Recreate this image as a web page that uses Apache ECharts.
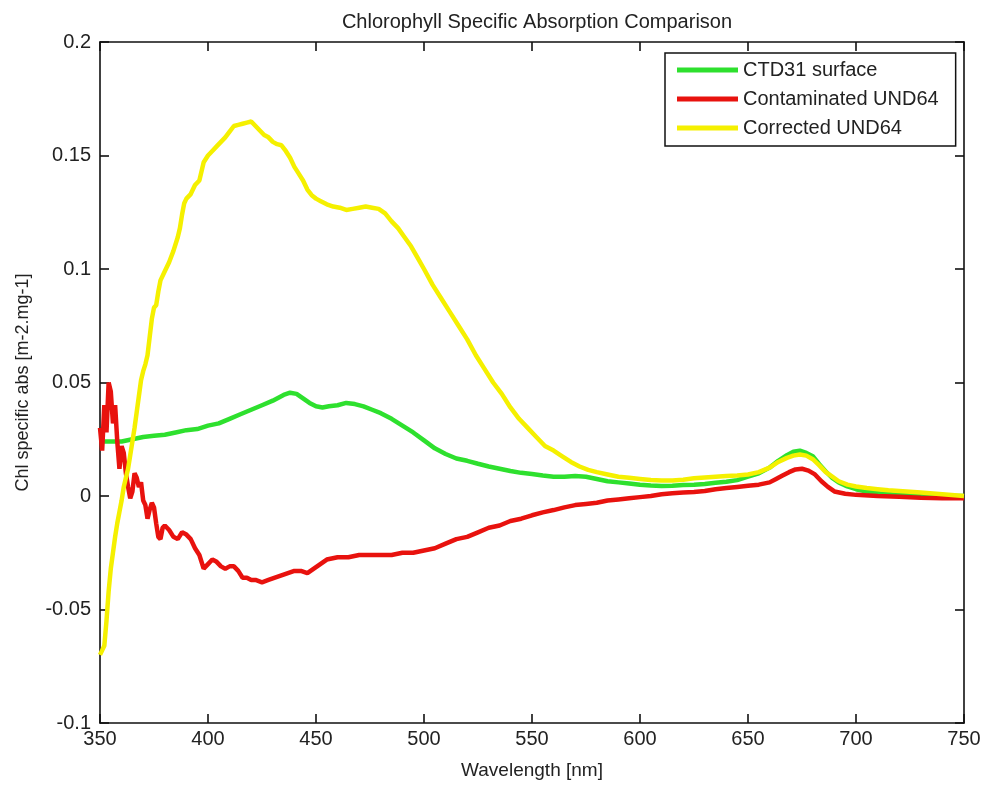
<!DOCTYPE html>
<html>
<head>
<meta charset="utf-8">
<script src="https://cdn.jsdelivr.net/npm/echarts@6/dist/echarts.min.js"></script>
<style>html,body{margin:0;padding:0;background:#fff}#c{width:984px;height:785px}</style>
</head>
<body>
<div id="c"></div>
<script>
// ---- data ----
const xTicks = [350, 400, 450, 500, 550, 600, 650, 700, 750];
const yTicks = [-0.1, -0.05, 0, 0.05, 0.1, 0.15, 0.2];

const greenWl = [350,355,360,365,370,375,380,385,390,395,400,405,410,415,420,425,430,435,438,441,444,447,450,453,456,460,464,468,472,476,480,485,490,495,500,505,510,515,520,525,530,535,540,545,550,555,560,565,570,575,580,585,590,595,600,605,610,615,620,625,630,635,640,645,650,655,660,664,668,671,674,677,680,683,686,689,692,696,700,705,712,720,735,750];
const greenVal = [0.024,0.024,0.024,0.025,0.026,0.0265,0.027,0.028,0.029,0.0295,0.031,0.032,0.034,0.036,0.038,0.040,0.042,0.0445,0.0455,0.045,0.043,0.041,0.0395,0.039,0.0395,0.040,0.041,0.0405,0.0395,0.038,0.0365,0.034,0.031,0.028,0.0245,0.021,0.0185,0.0165,0.0155,0.0142,0.013,0.012,0.011,0.0102,0.0097,0.009,0.0085,0.0085,0.0088,0.0085,0.0075,0.0065,0.006,0.0055,0.005,0.0046,0.0044,0.0045,0.0048,0.005,0.0053,0.0058,0.0063,0.007,0.0085,0.010,0.0125,0.0155,0.018,0.0195,0.020,0.019,0.0175,0.014,0.0108,0.008,0.006,0.0042,0.003,0.002,0.001,0.0006,0.0,0.0];

const redWl = [350,351,352,353,354,355,356,357,358,359,360,361,362,363,364,365,366,367,368,369,370,371,372,373,374,375,376,377,378,379,380,382,384,386,388,390,392,394,396,398,400,402,404,406,408,410,412,414,416,418,420,422,425,428,431,434,437,440,443,446,449,452,455,460,465,470,475,480,485,490,495,500,505,510,515,520,525,530,535,540,545,550,555,560,565,570,575,580,585,590,595,600,605,610,615,620,625,630,635,640,645,650,655,660,663,666,669,672,675,678,681,684,687,690,695,700,710,720,730,740,750];
const redVal = [0.030,0.020,0.040,0.028,0.050,0.046,0.032,0.040,0.024,0.012,0.022,0.019,0.010,0.004,-0.001,0.002,0.010,0.008,0.004,0.006,-0.002,-0.004,-0.010,-0.006,-0.003,-0.005,-0.012,-0.018,-0.019,-0.014,-0.013,-0.015,-0.018,-0.019,-0.016,-0.017,-0.019,-0.023,-0.026,-0.032,-0.030,-0.028,-0.029,-0.031,-0.032,-0.031,-0.031,-0.033,-0.036,-0.036,-0.037,-0.037,-0.038,-0.037,-0.036,-0.035,-0.034,-0.033,-0.033,-0.034,-0.032,-0.030,-0.028,-0.027,-0.027,-0.026,-0.026,-0.026,-0.026,-0.025,-0.025,-0.024,-0.023,-0.021,-0.019,-0.018,-0.016,-0.014,-0.013,-0.011,-0.010,-0.0085,-0.0072,-0.0062,-0.005,-0.004,-0.0035,-0.003,-0.002,-0.0015,-0.001,-0.0005,0.0,0.0008,0.0012,0.0015,0.0018,0.0022,0.003,0.0035,0.004,0.0045,0.005,0.006,0.0075,0.009,0.0105,0.0117,0.012,0.0112,0.0095,0.0065,0.004,0.002,0.001,0.0005,0.0,-0.0003,-0.0008,-0.001,-0.001];

const yellowWl = [350,351,352,353,354,355,356,357,358,359,360,361,362,363,364,365,366,367,368,369,370,371,372,373,374,375,376,377,378,380,382,384,386,387,388,389,390,392,394,396,398,400,402,404,406,408,410,412,414,416,418,420,422,424,426,428,430,432,434,436,438,440,442,444,446,448,450,452,455,458,461,464,467,470,473,476,479,482,485,488,491,494,497,500,504,508,512,516,520,524,528,532,536,540,544,548,552,556,560,564,568,572,576,580,585,590,595,600,605,610,615,620,625,630,635,640,645,650,655,660,664,668,671,674,677,680,683,686,689,692,696,700,705,710,715,720,730,740,750];
const yellowVal = [-0.070,-0.068,-0.066,-0.055,-0.042,-0.032,-0.025,-0.018,-0.012,-0.007,-0.002,0.004,0.008,0.012,0.018,0.024,0.030,0.037,0.044,0.051,0.055,0.058,0.062,0.070,0.078,0.083,0.084,0.090,0.095,0.099,0.103,0.108,0.114,0.118,0.124,0.129,0.131,0.133,0.137,0.139,0.147,0.150,0.152,0.154,0.156,0.158,0.1605,0.163,0.1635,0.164,0.1645,0.165,0.163,0.161,0.159,0.158,0.156,0.155,0.1545,0.152,0.149,0.145,0.142,0.139,0.135,0.1325,0.131,0.130,0.1285,0.1275,0.127,0.126,0.1265,0.127,0.1275,0.127,0.1265,0.1245,0.121,0.118,0.114,0.110,0.105,0.100,0.093,0.087,0.081,0.075,0.069,0.062,0.056,0.050,0.045,0.039,0.034,0.030,0.026,0.022,0.020,0.0175,0.015,0.013,0.0115,0.0105,0.0095,0.0085,0.008,0.0075,0.007,0.0068,0.0068,0.0072,0.0078,0.0082,0.0085,0.0088,0.009,0.0095,0.0105,0.0125,0.015,0.0168,0.0178,0.0183,0.0178,0.0162,0.0135,0.0105,0.0085,0.0065,0.005,0.0042,0.0035,0.003,0.0025,0.0022,0.0015,0.0008,0.0];

const names = ['CTD31 surface', 'Contaminated UND64', 'Corrected UND64'];
const colors = ['#2ee02e', '#e8120e', '#f5f000'];

function zip(a, b) { return a.map((v, i) => [v, b[i]]); }

const FONT = 'Liberation Sans, Arial, sans-serif';
const axisLine = { show: true, onZero: false, lineStyle: { color: '#111', width: 1.6 } };
const axisTick = { show: true, inside: true, length: 9, lineStyle: { color: '#111', width: 1.6 } };

const chart = echarts.init(document.getElementById('c'), null, { renderer: 'canvas' });
chart.setOption({
  backgroundColor: '#fff',
  animation: false,
  title: {
    text: 'Chlorophyll Specific Absorption Comparison',
    left: 532, top: 7, textAlign: 'center',
    textStyle: { fontFamily: FONT, fontSize: 20, fontWeight: 'normal', color: '#222' }
  },
  legend: {
    orient: 'vertical', left: 665, top: 53,
    data: names,
    icon: 'rect', itemWidth: 61, itemHeight: 5, itemGap: 9,
    padding: [7, 17, 8, 12],
    borderColor: '#111', borderWidth: 1.5, backgroundColor: '#fff',
    textStyle: { fontFamily: FONT, fontSize: 20, color: '#222' },
    selectedMode: false
  },
  grid: { left: 100, right: 20, top: 42, bottom: 60, containLabel: false },
  xAxis: [{
    type: 'value', min: 350, max: 750, interval: 50, position: 'bottom',
    name: 'Wavelength [nm]', nameLocation: 'middle', nameGap: 38,
    nameTextStyle: { fontFamily: FONT, fontSize: 19, color: '#222' },
    axisLine, axisTick, splitLine: { show: false },
    axisLabel: { fontFamily: FONT, fontSize: 20, color: '#222', margin: 6,
      formatter: v => xTicks.includes(v) ? String(v) : '' }
  }, {
    type: 'value', min: 350, max: 750, interval: 50, position: 'top',
    axisLine, axisTick, splitLine: { show: false }, axisLabel: { show: false }
  }],
  yAxis: [{
    type: 'value', min: -0.1, max: 0.2, interval: 0.05, position: 'left',
    name: 'Chl specific abs [m-2.mg-1]', nameLocation: 'middle', nameGap: 68,
    nameTextStyle: { fontFamily: FONT, fontSize: 18, color: '#222' },
    axisLine, axisTick, splitLine: { show: false },
    axisLabel: { fontFamily: FONT, fontSize: 20, color: '#222', margin: 9,
      formatter: v => { const r = Math.round(v * 100) / 100; const t = yTicks.find(k => Math.abs(k - r) < 1e-9); return t === undefined ? '' : String(t); } }
  }, {
    type: 'value', min: -0.1, max: 0.2, interval: 0.05, position: 'right',
    axisLine, axisTick, splitLine: { show: false }, axisLabel: { show: false }
  }],
  series: [
    { name: names[0], type: 'line', data: zip(greenWl, greenVal), showSymbol: false, symbol: 'none',
      lineStyle: { color: colors[0], width: 4.5 }, itemStyle: { color: colors[0] }, z: 2 },
    { name: names[1], type: 'line', data: zip(redWl, redVal), showSymbol: false, symbol: 'none',
      lineStyle: { color: colors[1], width: 4.5 }, itemStyle: { color: colors[1] }, z: 3 },
    { name: names[2], type: 'line', data: zip(yellowWl, yellowVal), showSymbol: false, symbol: 'none',
      lineStyle: { color: colors[2], width: 4.5 }, itemStyle: { color: colors[2] }, z: 4 }
  ]
});
</script>
</body>
</html>
